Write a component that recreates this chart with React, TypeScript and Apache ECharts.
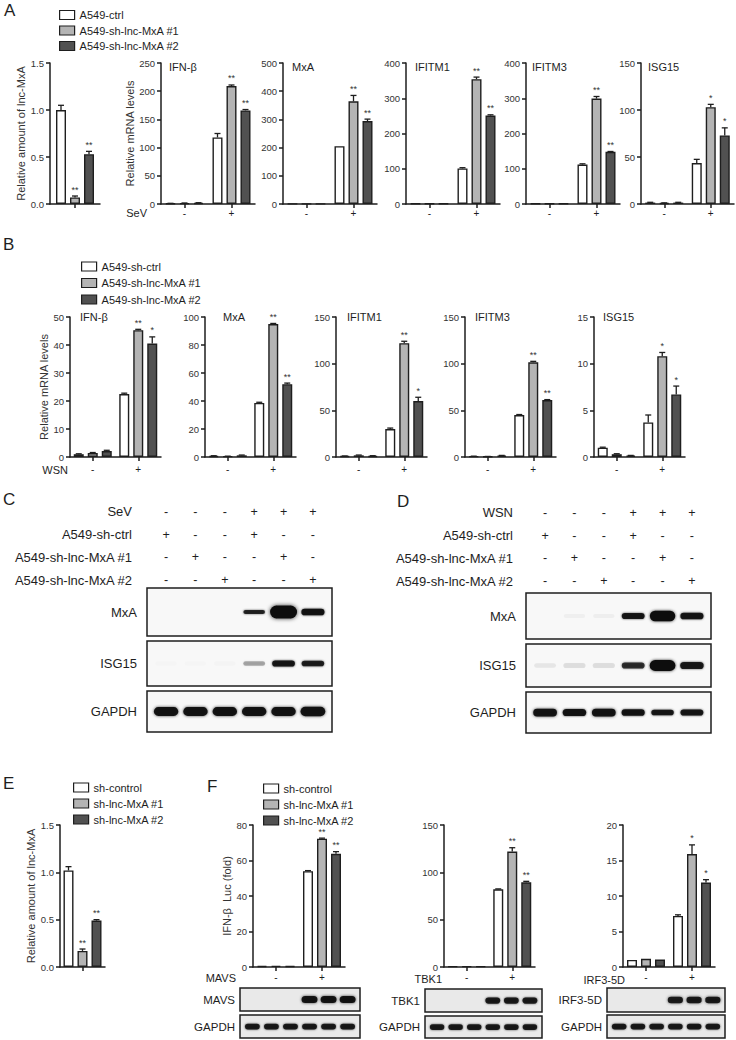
import { useEffect, useRef } from 'react';
import * as echarts from 'echarts';

const FONT = "'Liberation Sans', Arial, Helvetica, sans-serif";
const INK = '#1e1e1e';
const FILLS = ['#ffffff', '#b4b4b4', '#515151'];
const BAR_W = 10;
const BAR_STEP = 14; // bar width + 40% gap
const LANE_PAD = 0.65;

// ---------------- legends / categories
const legendA = ['A549-ctrl', 'A549-sh-lnc-MxA #1', 'A549-sh-lnc-MxA #2'];
const legendB = ['A549-sh-ctrl', 'A549-sh-lnc-MxA #1', 'A549-sh-lnc-MxA #2'];
const legendEF = ['sh-control', 'sh-lnc-MxA #1', 'sh-lnc-MxA #2'];
const signCats = ['-', '+'];
const singleCat = [''];

// ---------------- panel A  ([series][category]); axis = [max, interval]
const aLncMean = [[1.0], [0.07], [0.53]];
const aLncErr = [[0.05], [0.015], [0.03]];
const aLncStar = [[''], ['**'], ['**']];
const aLncAxis = [1.5, 0.5];

const aIfnbMean = [[1.0, 118], [1.5, 209], [2.0, 166]];
const aIfnbErr = [[0.2, 7], [0.3, 2], [0.3, 1.5]];
const aIfnbStar = [['', ''], ['', '**'], ['', '**']];
const aIfnbAxis = [250, 50];

const aMxaMean = [[1, 205], [1, 364], [1, 294]];
const aMxaErr = [[0, 0], [0, 21], [0, 7]];
const aMxaStar = [['', ''], ['', '**'], ['', '**']];
const aMxaAxis = [500, 100];

const aIfitm1Mean = [[1, 101], [1, 354], [1, 251]];
const aIfitm1Err = [[0, 2], [0, 6], [0, 2]];
const aIfitm1Star = [['', ''], ['', '**'], ['', '**']];
const aIfitm1Axis = [400, 100];

const aIfitm3Mean = [[1, 112], [1, 299], [1, 148]];
const aIfitm3Err = [[0, 2], [0, 6], [0, 1]];
const aIfitm3Star = [['', ''], ['', '**'], ['', '**']];
const aIfitm3Axis = [400, 100];

const aIsg15Mean = [[1.5, 43.5], [1.0, 103], [1.5, 73]];
const aIsg15Err = [[0.3, 4], [0.2, 3], [0.3, 8]];
const aIsg15Star = [['', ''], ['', '*'], ['', '*']];
const aIsg15Axis = [150, 50];

// ---------------- panel B
const bIfnbMean = [[1.0, 22.5], [1.4, 45.3], [2.1, 40.5]];
const bIfnbErr = [[0.15, 0.3], [0.2, 0.3], [0.3, 2.4]];
const bIfnbStar = [['', ''], ['', '**'], ['', '*']];
const bIfnbAxis = [50, 10];

const bMxaMean = [[0.8, 38.6], [0.5, 95], [1.2, 52]];
const bMxaErr = [[0.1, 0.5], [0.1, 0.4], [0.2, 0.8]];
const bMxaStar = [['', ''], ['', '**'], ['', '**']];
const bMxaAxis = [100, 20];

const bIfitm1Mean = [[1.0, 30], [1.8, 122], [1.2, 60]];
const bIfitm1Err = [[0.1, 1], [0.3, 2], [0.2, 4]];
const bIfitm1Star = [['', ''], ['', '**'], ['', '*']];
const bIfitm1Axis = [150, 50];

const bIfitm3Mean = [[0.8, 45], [0.5, 101.5], [1.5, 61]];
const bIfitm3Err = [[0.1, 0.5], [0.1, 1], [0.2, 0.5]];
const bIfitm3Star = [['', ''], ['', '**'], ['', '**']];
const bIfitm3Axis = [150, 50];

const bIsg15Mean = [[1.0, 3.7], [0.3, 10.8], [0.15, 6.7]];
const bIsg15Err = [[0.05, 0.8], [0.05, 0.4], [0.02, 0.9]];
const bIsg15Star = [['', ''], ['', '*'], ['', '*']];
const bIsg15Axis = [15, 5];

// ---------------- panel E / F
const eLncMean = [[1.02], [0.17], [0.49]];
const eLncErr = [[0.04], [0.02], [0.01]];
const eLncStar = [[''], ['**'], ['**']];
const eLncAxis = [1.5, 0.5];

const fMavsMean = [[0.6, 54], [0.7, 72.3], [0.5, 63.8]];
const fMavsErr = [[0, 0.3], [0, 0.3], [0, 1.2]];
const fMavsStar = [['', ''], ['', '**'], ['', '**']];
const fMavsAxis = [80, 20];

const fTbk1Mean = [[0.8, 82], [0.8, 122], [0.7, 89.5]];
const fTbk1Err = [[0, 0.5], [0, 4], [0, 1]];
const fTbk1Star = [['', ''], ['', '**'], ['', '**']];
const fTbk1Axis = [150, 50];

const fIrf3Mean = [[1.0, 7.2], [1.15, 15.9], [1.05, 11.9]];
const fIrf3Err = [[0, 0.15], [0, 1.3], [0, 0.4]];
const fIrf3Star = [['', ''], ['', '*'], ['', '*']];
const fIrf3Axis = [20, 5];

// ---------------- blots: band darkness and thickness per lane
const tableRowsC = ['SeV', 'A549-sh-ctrl', 'A549-sh-lnc-MxA #1', 'A549-sh-lnc-MxA #2'];
const tableRowsD = ['WSN', 'A549-sh-ctrl', 'A549-sh-lnc-MxA #1', 'A549-sh-lnc-MxA #2'];
const tableSigns = [
  ['-', '-', '-', '+', '+', '+'],
  ['+', '-', '-', '+', '-', '-'],
  ['-', '+', '-', '-', '+', '-'],
  ['-', '-', '+', '-', '-', '+'],
];

const cMxaLevel = [0, 0, 0, 0.85, 1, 0.95];
const cMxaThick = [0, 0, 0, 0.15, 1, 0.4];
const cIsgLevel = [0.012, 0.012, 0.015, 0.3, 0.92, 0.88];
const cIsgThick = [0.2, 0.2, 0.2, 0.2, 0.35, 0.3];
const cGapdhLevel = [0.95, 0.95, 0.95, 0.95, 0.95, 0.95];
const cGapdhThick = [0.6, 0.6, 0.6, 0.6, 0.6, 0.65];

const dMxaLevel = [0, 0.035, 0.04, 0.92, 1, 0.92];
const dMxaThick = [0, 0.15, 0.15, 0.35, 0.75, 0.4];
const dIsgLevel = [0.07, 0.1, 0.1, 0.8, 1, 0.9];
const dIsgThick = [0.2, 0.25, 0.25, 0.35, 0.8, 0.45];
const dGapdhLevel = [0.95, 0.95, 0.95, 0.95, 0.92, 0.92];
const dGapdhThick = [0.5, 0.45, 0.5, 0.4, 0.3, 0.35];

const fMavsLevel = [0, 0, 0, 0.95, 0.95, 0.95];
const fMavsThick = [0, 0, 0, 0.6, 0.6, 0.6];
const fTbk1Level = [0, 0, 0, 0.9, 0.9, 0.9];
const fTbk1Thick = [0, 0, 0, 0.45, 0.45, 0.45];
const fIrfLevel = [0, 0, 0, 0.9, 0.9, 0.9];
const fIrfThick = [0, 0, 0, 0.5, 0.5, 0.5];
const fGapdhLevel = [0.9, 0.9, 0.9, 0.9, 0.9, 0.9];
const fGapdhThick = [0.35, 0.35, 0.35, 0.35, 0.35, 0.35];

// ---------------- chart definitions
const barCharts = [
  { mean: aLncMean, err: aLncErr, star: aLncStar, axis: aLncAxis, cats: singleCat, names: legendA, dec: 1, yName: 'Relative amount of lnc-MxA', title: '' },
  { mean: aIfnbMean, err: aIfnbErr, star: aIfnbStar, axis: aIfnbAxis, cats: signCats, names: legendA, dec: 0, yName: 'Relative mRNA levels', title: 'IFN-β' },
  { mean: aMxaMean, err: aMxaErr, star: aMxaStar, axis: aMxaAxis, cats: signCats, names: legendA, dec: 0, yName: '', title: 'MxA' },
  { mean: aIfitm1Mean, err: aIfitm1Err, star: aIfitm1Star, axis: aIfitm1Axis, cats: signCats, names: legendA, dec: 0, yName: '', title: 'IFITM1' },
  { mean: aIfitm3Mean, err: aIfitm3Err, star: aIfitm3Star, axis: aIfitm3Axis, cats: signCats, names: legendA, dec: 0, yName: '', title: 'IFITM3' },
  { mean: aIsg15Mean, err: aIsg15Err, star: aIsg15Star, axis: aIsg15Axis, cats: signCats, names: legendA, dec: 0, yName: '', title: 'ISG15' },
  { mean: bIfnbMean, err: bIfnbErr, star: bIfnbStar, axis: bIfnbAxis, cats: signCats, names: legendB, dec: 0, yName: 'Relative mRNA levels', title: 'IFN-β' },
  { mean: bMxaMean, err: bMxaErr, star: bMxaStar, axis: bMxaAxis, cats: signCats, names: legendB, dec: 0, yName: '', title: 'MxA' },
  { mean: bIfitm1Mean, err: bIfitm1Err, star: bIfitm1Star, axis: bIfitm1Axis, cats: signCats, names: legendB, dec: 0, yName: '', title: 'IFITM1' },
  { mean: bIfitm3Mean, err: bIfitm3Err, star: bIfitm3Star, axis: bIfitm3Axis, cats: signCats, names: legendB, dec: 0, yName: '', title: 'IFITM3' },
  { mean: bIsg15Mean, err: bIsg15Err, star: bIsg15Star, axis: bIsg15Axis, cats: signCats, names: legendB, dec: 0, yName: '', title: 'ISG15' },
  { mean: eLncMean, err: eLncErr, star: eLncStar, axis: eLncAxis, cats: singleCat, names: legendEF, dec: 1, yName: 'Relative amount of lnc-MxA', title: '' },
  { mean: fMavsMean, err: fMavsErr, star: fMavsStar, axis: fMavsAxis, cats: signCats, names: legendEF, dec: 0, yName: 'IFN-β  Luc (fold)', title: '' },
  { mean: fTbk1Mean, err: fTbk1Err, star: fTbk1Star, axis: fTbk1Axis, cats: signCats, names: legendEF, dec: 0, yName: '', title: '' },
  { mean: fIrf3Mean, err: fIrf3Err, star: fIrf3Star, axis: fIrf3Axis, cats: signCats, names: legendEF, dec: 0, yName: '', title: '' },
];

const barLayouts = [
  { left: 50, top: 63, width: 50, height: 141, nameGap: 21, catMargin: 4, tdx: 8, tdy: 3.5 },
  { left: 161, top: 63, width: 94, height: 141, nameGap: 21, catMargin: 4, tdx: 8, tdy: 3.5 },
  { left: 283, top: 63, width: 94, height: 141, nameGap: 21, catMargin: 4, tdx: 9, tdy: 3.5 },
  { left: 406, top: 63, width: 94, height: 141, nameGap: 21, catMargin: 4, tdx: 9, tdy: 3.5 },
  { left: 526, top: 63, width: 94, height: 141, nameGap: 21, catMargin: 4, tdx: 6, tdy: 3.5 },
  { left: 641, top: 63, width: 93, height: 141, nameGap: 21, catMargin: 4, tdx: 7, tdy: 3.5 },
  { left: 70, top: 317, width: 91, height: 140, nameGap: 19, catMargin: 7, tdx: 10, tdy: 0 },
  { left: 205, top: 317, width: 91, height: 140, nameGap: 19, catMargin: 7, tdx: 18, tdy: 0 },
  { left: 336, top: 317, width: 91, height: 140, nameGap: 19, catMargin: 7, tdx: 11, tdy: 0 },
  { left: 465, top: 317, width: 91, height: 140, nameGap: 19, catMargin: 7, tdx: 10, tdy: 0 },
  { left: 594, top: 317, width: 91, height: 140, nameGap: 19, catMargin: 7, tdx: 9, tdy: 0 },
  { left: 60, top: 825, width: 45, height: 142, nameGap: 22, catMargin: 5, tdx: 0, tdy: 0 },
  { left: 253, top: 825, width: 92, height: 142, nameGap: 16, catMargin: 5.5, tdx: 0, tdy: 0 },
  { left: 444, top: 825, width: 91, height: 142, nameGap: 16, catMargin: 5.5, tdx: 0, tdy: 0 },
  { left: 623, top: 825, width: 92, height: 142, nameGap: 16, catMargin: 5.5, tdx: 0, tdy: 0 },
];

const blots = [
  { label: 'MxA', level: cMxaLevel, thick: cMxaThick },
  { label: 'ISG15', level: cIsgLevel, thick: cIsgThick },
  { label: 'GAPDH', level: cGapdhLevel, thick: cGapdhThick },
  { label: 'MxA', level: dMxaLevel, thick: dMxaThick },
  { label: 'ISG15', level: dIsgLevel, thick: dIsgThick },
  { label: 'GAPDH', level: dGapdhLevel, thick: dGapdhThick },
  { label: 'MAVS', level: fMavsLevel, thick: fMavsThick },
  { label: 'GAPDH', level: fGapdhLevel, thick: fGapdhThick },
  { label: 'TBK1', level: fTbk1Level, thick: fTbk1Thick },
  { label: 'GAPDH', level: fGapdhLevel, thick: fGapdhThick },
  { label: 'IRF3-5D', level: fIrfLevel, thick: fIrfThick },
  { label: 'GAPDH', level: fGapdhLevel, thick: fGapdhThick },
];

const CD_BLOT = { bg: '#f8f8f8', labelMargin: 10, font: 13, hMin: 2.5, hMax: 13 };
const F_BLOT = { bg: '#e9e9e9', labelMargin: 5, font: 11.5, hMin: 4, hMax: 9 };
const blotLayouts = [
  { left: 147, top: 588, width: 185, height: 48, ...CD_BLOT },
  { left: 147, top: 641, width: 185, height: 45, ...CD_BLOT },
  { left: 147, top: 691, width: 185, height: 41, ...CD_BLOT },
  { left: 526, top: 593, width: 185, height: 46, ...CD_BLOT },
  { left: 526, top: 644, width: 185, height: 43, ...CD_BLOT },
  { left: 526, top: 692, width: 185, height: 41, ...CD_BLOT },
  { left: 240, top: 988, width: 120, height: 23, ...F_BLOT },
  { left: 240, top: 1015, width: 120, height: 23, ...F_BLOT },
  { left: 425, top: 989, width: 117, height: 23, ...F_BLOT },
  { left: 425, top: 1016, width: 117, height: 22, ...F_BLOT },
  { left: 607, top: 988, width: 118, height: 24, ...F_BLOT },
  { left: 607, top: 1015, width: 118, height: 23, ...F_BLOT },
];

const tables = [
  { rows: tableRowsC, signs: tableSigns },
  { rows: tableRowsD, signs: tableSigns },
];
const tableLayouts = [
  { left: 147, top: 500.6, width: 185, height: 90.8, labelMargin: 15 },
  { left: 526, top: 501.6, width: 185, height: 90.8, labelMargin: 13 },
];

const panelLetters = ['A', 'B', 'C', 'D', 'E', 'F'];
const letterPos = [[4, 2], [3, 236], [3, 491], [397, 493], [3, 775], [207, 778]];
const condLabels = ['SeV', 'WSN', 'MAVS', 'TBK1', 'IRF3-5D'];
const condPos = [[147, 213], [68, 470], [236, 978], [442, 979], [625, 980]];

const legendSets = [legendA, legendB, legendEF, legendEF];
const legendLayouts = [
  { left: 54, top: 4.5, gap: 4.5 },
  { left: 76, top: 256, gap: 5.5 },
  { left: 68, top: 777, gap: 5 },
  { left: 258, top: 778, gap: 5 },
];

function addBarChart(opt: any, c: any, lay: any) {
  const gi = opt.grid.length;
  opt.grid.push({ left: lay.left, top: lay.top, width: lay.width, height: lay.height, containLabel: false, outerBoundsMode: 'none' });
  opt.xAxis.push({
    type: 'category', gridIndex: gi, data: c.cats,
    axisLine: { lineStyle: { color: INK, width: 1.5 } },
    axisTick: { show: true, alignWithLabel: true, length: 4, lineStyle: { color: INK, width: 1.5 } },
    axisLabel: { fontSize: 10, color: INK, margin: lay.catMargin, fontFamily: FONT },
    splitLine: { show: false },
  });
  opt.yAxis.push({
    type: 'value', gridIndex: gi, min: 0, max: c.axis[0], interval: c.axis[1],
    axisLine: { show: true, lineStyle: { color: INK, width: 1.5 } },
    axisTick: { show: true, length: 4, lineStyle: { color: INK, width: 1.5 } },
    splitLine: { show: false },
    axisLabel: { fontSize: 9.5, color: '#333', margin: 6, fontFamily: FONT, formatter: (v: number) => v.toFixed(c.dec) },
    name: c.yName, nameLocation: 'middle', nameGap: lay.nameGap,
    nameTextStyle: { fontSize: 11, color: '#333', fontFamily: FONT },
  });
  c.mean.forEach((m: number[], s: number) => {
    opt.series.push({
      type: 'bar', name: c.names[s], xAxisIndex: gi, yAxisIndex: gi, data: m,
      barWidth: BAR_W, barGap: '40%', silent: true, z: 2,
      itemStyle: { color: FILLS[s], borderColor: INK, borderWidth: 1.4 },
    });
  });
  const items: any[] = [];
  c.mean.forEach((m: number[], s: number) => m.forEach((v: number, k: number) => items.push({ s, k, v, e: c.err[s][k], star: c.star[s][k] })));
  opt.series.push({
    type: 'custom', xAxisIndex: gi, yAxisIndex: gi, silent: true, z: 4,
    data: items.map((it) => [it.k, it.v + it.e]),
    renderItem: (params: any, api: any) => {
      const it = items[params.dataIndex];
      const top = api.coord([it.k, it.v + it.e]);
      const base = api.coord([it.k, it.v]);
      const x = top[0] + (it.s - 1) * BAR_STEP;
      const children: any[] = [];
      if (it.e > 0) {
        children.push({ type: 'line', shape: { x1: x, y1: base[1], x2: x, y2: top[1] }, style: { stroke: INK, lineWidth: 1.3 } });
        children.push({ type: 'line', shape: { x1: x - 3, y1: top[1], x2: x + 3, y2: top[1] }, style: { stroke: INK, lineWidth: 1.3 } });
      }
      if (it.star) {
        children.push({ type: 'text', x, y: top[1] - 2, style: { text: it.star, align: 'center', verticalAlign: 'bottom', fontSize: 9, fontFamily: FONT, fill: '#333' } });
      }
      return { type: 'group', children };
    },
  });
  if (c.title) {
    opt.graphic.push({ type: 'text', x: lay.left + lay.tdx, y: lay.top + lay.tdy, style: { text: c.title, fontSize: 11, fontFamily: FONT, fill: INK, align: 'left', verticalAlign: 'middle' } });
  }
}

function addBlot(opt: any, b: any, lay: any) {
  const gi = opt.grid.length;
  opt.grid.push({ left: lay.left, top: lay.top, width: lay.width, height: lay.height, show: true, borderColor: INK, borderWidth: 1.5, backgroundColor: lay.bg, containLabel: false, outerBoundsMode: 'none' });
  opt.xAxis.push({ type: 'value', gridIndex: gi, min: -LANE_PAD, max: 5 + LANE_PAD, show: false });
  opt.yAxis.push({
    type: 'category', gridIndex: gi, data: [b.label],
    axisLine: { show: false }, axisTick: { show: false }, splitLine: { show: false },
    axisLabel: { margin: lay.labelMargin, fontSize: lay.font, color: INK, fontFamily: FONT },
  });
  opt.series.push({
    type: 'custom', xAxisIndex: gi, yAxisIndex: gi, silent: true, z: 3,
    data: b.level.map((a: number, i: number) => [i, 0, a, b.thick[i]]),
    renderItem: (params: any, api: any) => {
      const a = api.value(2);
      if (!(a > 0)) return { type: 'group', children: [] };
      const t = api.value(3);
      const c = api.coord([api.value(0), 0]);
      const lane = api.size([1, 0], [api.value(0), 0])[0];
      const w = lane * (0.7 + 0.22 * t);
      const h = lay.hMin + (lay.hMax - lay.hMin) * t;
      return {
        type: 'rect',
        shape: { x: c[0] - w / 2, y: c[1] - h / 2, width: w, height: h, r: h / 2 },
        style: { fill: `rgba(14,14,14,${a})`, shadowBlur: 1.5 + 2.5 * t, shadowColor: `rgba(14,14,14,${a * 0.8})` },
      };
    },
  });
}

function addTable(opt: any, t: any, lay: any) {
  const gi = opt.grid.length;
  opt.grid.push({ left: lay.left, top: lay.top, width: lay.width, height: lay.height, show: false, containLabel: false, outerBoundsMode: 'none' });
  opt.xAxis.push({ type: 'value', gridIndex: gi, min: -LANE_PAD, max: 5 + LANE_PAD, show: false });
  opt.yAxis.push({
    type: 'category', gridIndex: gi, data: t.rows, inverse: true,
    axisLine: { show: false }, axisTick: { show: false }, splitLine: { show: false },
    axisLabel: { margin: lay.labelMargin, fontSize: 13, color: INK, fontFamily: FONT },
  });
  const cells: any[] = [];
  t.signs.forEach((row: string[], r: number) => row.forEach((sg: string, l: number) => cells.push({ l, r, sg })));
  opt.series.push({
    type: 'custom', xAxisIndex: gi, yAxisIndex: gi, silent: true, z: 3,
    data: cells.map((c) => [c.l, c.r]),
    renderItem: (params: any, api: any) => {
      const cell = cells[params.dataIndex];
      const p = api.coord([cell.l, cell.r]);
      return { type: 'text', x: p[0], y: p[1], style: { text: cell.sg, align: 'center', verticalAlign: 'middle', fontSize: 12.5, fontFamily: FONT, fill: INK } };
    },
  });
}

function buildOption() {
  const opt: any = { animation: false, backgroundColor: '#ffffff', textStyle: { fontFamily: FONT }, grid: [], xAxis: [], yAxis: [], series: [], legend: [], graphic: [] };
  barCharts.forEach((c, i) => addBarChart(opt, c, barLayouts[i]));
  blots.forEach((b, i) => addBlot(opt, b, blotLayouts[i]));
  tables.forEach((t, i) => addTable(opt, t, tableLayouts[i]));
  legendSets.forEach((names, i) => {
    const L = legendLayouts[i];
    opt.legend.push({
      data: names, left: L.left, top: L.top, orient: 'vertical', icon: 'rect',
      itemWidth: 15, itemHeight: 9, itemGap: L.gap, selectedMode: false,
      itemStyle: { borderColor: INK, borderWidth: 1.2 },
      textStyle: { fontSize: 11, color: INK, fontFamily: FONT },
    });
  });
  panelLetters.forEach((l, i) => {
    opt.graphic.push({ type: 'text', x: letterPos[i][0], y: letterPos[i][1], style: { text: l, fontSize: 17, fontFamily: FONT, fill: INK, align: 'left', verticalAlign: 'top' } });
  });
  condLabels.forEach((l, i) => {
    opt.graphic.push({ type: 'text', x: condPos[i][0], y: condPos[i][1], style: { text: l, fontSize: 11, fontFamily: FONT, fill: INK, align: 'right', verticalAlign: 'middle' } });
  });
  return opt;
}

export default function App() {
  const ref = useRef<HTMLDivElement>(null);
  useEffect(() => {
    const el = ref.current;
    if (!el) return;
    const chart = echarts.init(el, undefined, { renderer: 'svg' });
    chart.setOption(buildOption());
    return () => chart.dispose();
  }, []);
  return <div ref={ref} style={{ position: 'absolute', left: 0, top: 0, width: 736, height: 1040, background: '#fff' }} />;
}
